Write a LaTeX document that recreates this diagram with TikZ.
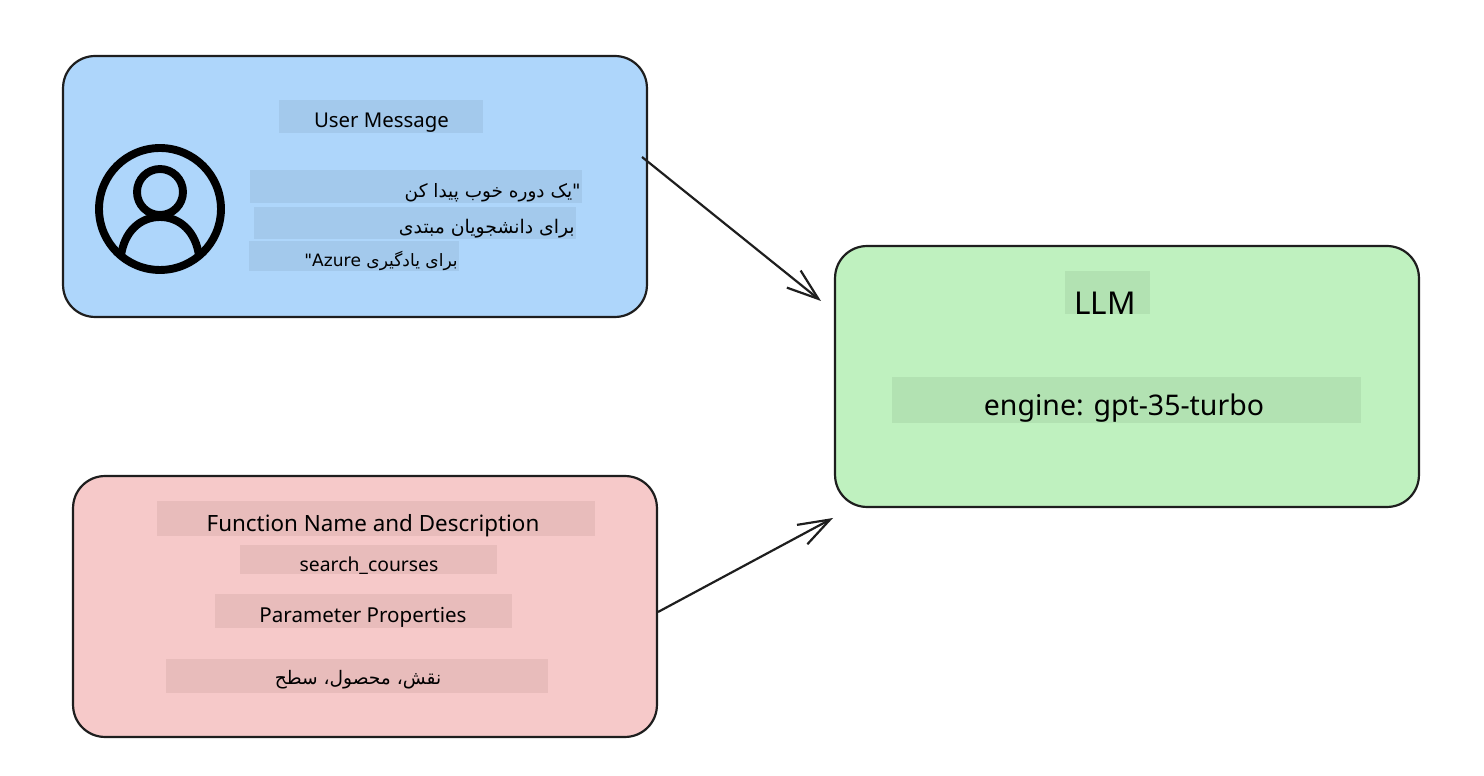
\documentclass[tikz,border=0pt]{standalone}
\usepackage{fontspec}
\setmainfont{Noto Sans}
\newfontfamily\persianfont[Script=Arabic]{DejaVu Sans}
\TeXXeTstate=1
\usetikzlibrary{arrows.meta}
\definecolor{userblue}{HTML}{AED6FB}
\definecolor{userband}{HTML}{A3C9EC}
\definecolor{funcred}{HTML}{F6C9C9}
\definecolor{funcband}{HTML}{E8BCBB}
\definecolor{llmgreen}{HTML}{BFF1BF}
\definecolor{llmband}{HTML}{B2E2B2}
\definecolor{inkline}{HTML}{1E1E1E}
\tikzset{
	roundbox/.style={draw=inkline,line width=1.25pt,rounded corners=0.64cm,minimum width=11.68cm,minimum height=5.22cm},
	band/.style={inner sep=0pt},
	label/.style={inner sep=0pt,text=black,font=\fontsize{11.6}{13}\selectfont},
	flow/.style={draw=inkline,line width=1.25pt,-{Straight Barb[length=18pt,width=12.5pt]}}
}
\begin{document}
\begin{tikzpicture}[x=0.02cm,y=-0.02cm]
	\useasboundingbox (0,0) rectangle (1484,776);
	% the three boxes
	\node[roundbox,fill=userblue] (userbox) at (355,186.5) {};
	\node[roundbox,fill=funcred] (funcbox) at (365,606.5) {};
	\node[roundbox,fill=llmgreen] (llmbox) at (1127,376.5) {};
	% user message
	\node[band,fill=userband,minimum width=4.08cm,minimum height=0.66cm] (userband) at (381,116.5) {};
	\node[band,fill=userband,minimum width=6.64cm,minimum height=0.66cm] (lineaband) at (416,187) {};
	\node[band,fill=userband,minimum width=6.44cm,minimum height=0.64cm] (linebband) at (415,223) {};
	\node[band,fill=userband,minimum width=4.2cm,minimum height=0.6cm] (linecband) at (354,256) {};
	\node[label] (usertitle) at (381.5,123) {User Message};
	\node[label,anchor=east,font=\fontsize{10.5}{12}\selectfont] (linea) at (581,193) {\persianfont\beginR"یک دوره خوب پیدا کن\endR};
	\node[label,anchor=east,font=\fontsize{10.7}{12}\selectfont] (lineb) at (575,229) {\persianfont\beginR برای دانشجویان مبتدی\endR};
	\node[label,anchor=east,font=\fontsize{9.7}{11}\selectfont] (linec) at (458,261) {\persianfont\beginR برای یادگیری \beginL Azure\endL"\endR};
	% user icon
	\node[circle,draw=black,line width=4.5pt,minimum size=2.44cm,inner sep=0pt] (iconface) at (160,209) {};
	\node[circle,draw=black,line width=4.5pt,minimum size=0.92cm,inner sep=0pt] (iconhead) at (160,192) {};
	\coordinate (bodyleft) at (121,256);
	\coordinate (bodyright) at (199,256);
	\draw[black,line width=4.5pt] (bodyleft) .. controls (124,232) and (140,217) .. (160,217) .. controls (180,217) and (196,232) .. (bodyright);
	% function
	\node[band,fill=funcband,minimum width=8.76cm,minimum height=0.7cm] (funcband1) at (376,518.5) {};
	\node[band,fill=funcband,minimum width=5.14cm,minimum height=0.58cm] (funcband2) at (368.5,559.5) {};
	\node[band,fill=funcband,minimum width=5.94cm,minimum height=0.68cm] (funcband3) at (363.5,611) {};
	\node[band,fill=funcband,minimum width=7.64cm,minimum height=0.68cm] (funcband4) at (357,676) {};
	\node[label,font=\fontsize{12.75}{15}\selectfont] (functitle) at (373,525.5) {Function Name and Description};
	\node[label,font=\fontsize{11}{13}\selectfont] (funcname) at (369,565.5) {search\_courses};
	\node[label,font=\fontsize{11.7}{14}\selectfont] (paramtitle) at (363,617) {Parameter Properties};
	\node[label,font=\fontsize{10.6}{12}\selectfont] (paramlist) at (358,680) {\persianfont\beginR نقش، محصول، سطح\endR};
	% llm
	\node[band,fill=llmband,minimum width=1.7cm,minimum height=0.86cm] (llmband1) at (1107.5,292.5) {};
	\node[band,fill=llmband,minimum width=9.38cm,minimum height=0.92cm] (llmband2) at (1126.5,400) {};
	\node[label,font=\fontsize{17.9}{21}\selectfont] (llmtitle) at (1105,303) {LLM};
	\node[label,font=\fontsize{16.2}{19}\selectfont] (llmengine) at (1124,408) {engine: gpt-35-turbo};
	% arrows
	\coordinate (userout) at (642,157);
	\coordinate (userin) at (821,301);
	\coordinate (funcout) at (658,612);
	\coordinate (funcin) at (833,518);
	\draw[flow] (userout) -- (userin);
	\draw[flow] (funcout) -- (funcin);
\end{tikzpicture}
\end{document}
